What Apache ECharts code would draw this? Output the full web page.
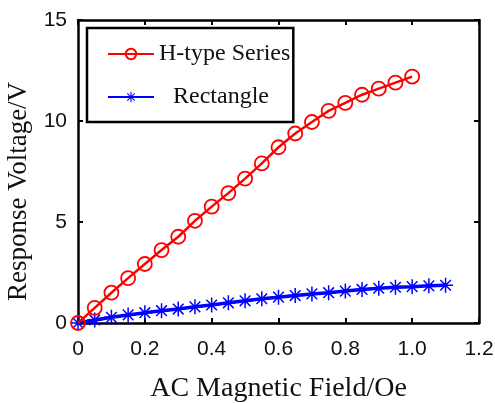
<!DOCTYPE html>
<html>
<head>
<meta charset="utf-8">
<script src="https://cdn.jsdelivr.net/npm/echarts@6/dist/echarts.min.js"></script>
<style>
	html, body { margin: 0; padding: 0; background: #fff; }
	#chart { width: 495px; height: 403px; }
</style>
</head>
<body>
<div id="chart"></div>
<script>
var hTypeX = [0, 0.05, 0.1, 0.15, 0.2, 0.25, 0.3, 0.35, 0.4, 0.45, 0.5,
	0.55, 0.6, 0.65, 0.7, 0.75, 0.8, 0.85, 0.9, 0.95, 1.0];
var hTypeY = [0, 0.75, 1.5, 2.22, 2.92, 3.61, 4.27, 5.06, 5.76, 6.43, 7.15,
	7.9, 8.7, 9.38, 9.95, 10.5, 10.9, 11.3, 11.6, 11.9, 12.2];

var rectX = [0, 0.05, 0.1, 0.15, 0.2, 0.25, 0.3, 0.35, 0.4, 0.45, 0.5, 0.55,
	0.6, 0.65, 0.7, 0.75, 0.8, 0.85, 0.9, 0.95, 1.0, 1.05, 1.1];
var rectY = [0, 0.15, 0.28, 0.4, 0.51, 0.61, 0.69, 0.8, 0.89, 1.0, 1.1, 1.2,
	1.28, 1.36, 1.44, 1.5, 1.58, 1.66, 1.72, 1.77, 1.8, 1.84, 1.87];

var seriesNames = ['H-type Series', 'Rectangle'];
var xTicks = [0, 0.2, 0.4, 0.6, 0.8, 1.0, 1.2];
var yTicks = [0, 5, 10, 15];

function pairs(xs, ys) {
	return xs.map(function(x, i) {
		return [x, ys[i]];
	});
}

// asterisk marker (+ and x overlaid), all parts wound the same way
var asterisk = 'path://M-1,-10L1,-10L1,10L-1,10Z' +
	'M-10,-1L10,-1L10,1L-10,1Z' +
	'M-7.8,-6.4L-6.4,-7.8L7.8,6.4L6.4,7.8Z' +
	'M6.4,-7.8L7.8,-6.4L-6.4,7.8L-7.8,6.4Z';

var sans = 'Liberation Sans';
var serif = 'Liberation Serif';

var myChart = echarts.init(document.getElementById('chart'));
var axisLine = { show: true, onZero: false, lineStyle: { color: '#000', width: 2.5 } };
var tick = { show: true, inside: true, length: 5, lineStyle: { color: '#000', width: 2 } };

var option = {
	animation: false,
	grid: {
		left: 78,
		top: 20,
		right: 16,
		bottom: 80,
		containLabel: false,
		outerBoundsMode: 'none'
	},
	legend: {
		orient: 'vertical',
		left: 87,
		top: 28,
		data: seriesNames,
		itemWidth: 46,
		itemHeight: 13,
		itemGap: 19,
		padding: [14, 3, 13, 20],
		borderColor: '#000',
		borderWidth: 2.5,
		textStyle: {
			fontFamily: serif,
			fontSize: 24,
			lineHeight: 24,
			color: '#111',
			rich: {
				r: { fontFamily: serif, fontSize: 24, lineHeight: 24, color: '#111', padding: [0, 0, 0, 14] }
			}
		},
		formatter: function(name) {
			return name === 'Rectangle' ? '{r|' + name + '}' : name;
		}
	},
	xAxis: [{
		type: 'value',
		min: 0,
		max: 1.2,
		interval: 0.2,
		name: 'AC Magnetic Field/Oe',
		nameLocation: 'middle',
		nameGap: 52,
		nameTextStyle: { fontFamily: serif, fontSize: 28, color: '#111' },
		axisLine: axisLine,
		axisTick: tick,
		splitLine: { show: false },
		axisLabel: {
			margin: 16,
			fontFamily: sans,
			fontSize: 21,
			color: '#111',
			formatter: function(v) {
				return v === 0 ? '0' : v.toFixed(1);
			}
		}
	}, {
		type: 'value',
		position: 'top',
		min: 0,
		max: 1.2,
		interval: 0.2,
		axisLine: axisLine,
		axisTick: tick,
		axisLabel: { show: false },
		splitLine: { show: false }
	}],
	yAxis: [{
		type: 'value',
		min: 0,
		max: 15,
		interval: 5,
		name: 'Response Voltage/V',
		nameLocation: 'middle',
		nameGap: 44,
		nameTextStyle: { fontFamily: serif, fontSize: 27, color: '#111', padding: [0, 40, 0, 0] },
		axisLine: axisLine,
		axisTick: tick,
		splitLine: { show: false },
		axisLabel: {
			margin: 11,
			fontFamily: sans,
			fontSize: 21,
			color: '#111'
		}
	}, {
		type: 'value',
		position: 'right',
		min: 0,
		max: 15,
		interval: 5,
		axisLine: axisLine,
		axisTick: tick,
		axisLabel: { show: false },
		splitLine: { show: false }
	}],
	series: [{
		name: seriesNames[0],
		type: 'line',
		data: pairs(hTypeX, hTypeY),
		symbol: 'circle',
		symbolSize: 14,
		showAllSymbol: true,
		lineStyle: { color: '#ff0000', width: 2.5 },
		itemStyle: { color: 'rgba(255,255,255,0)', borderColor: '#ff0000', borderWidth: 1.8 },
		z: 3
	}, {
		name: seriesNames[1],
		type: 'line',
		data: pairs(rectX, rectY),
		symbol: asterisk,
		symbolSize: 15,
		showAllSymbol: true,
		lineStyle: { color: '#0000ff', width: 3.5 },
		itemStyle: { color: '#0000ff' },
		z: 2
	}]
};
myChart.setOption(option);
</script>
</body>
</html>
